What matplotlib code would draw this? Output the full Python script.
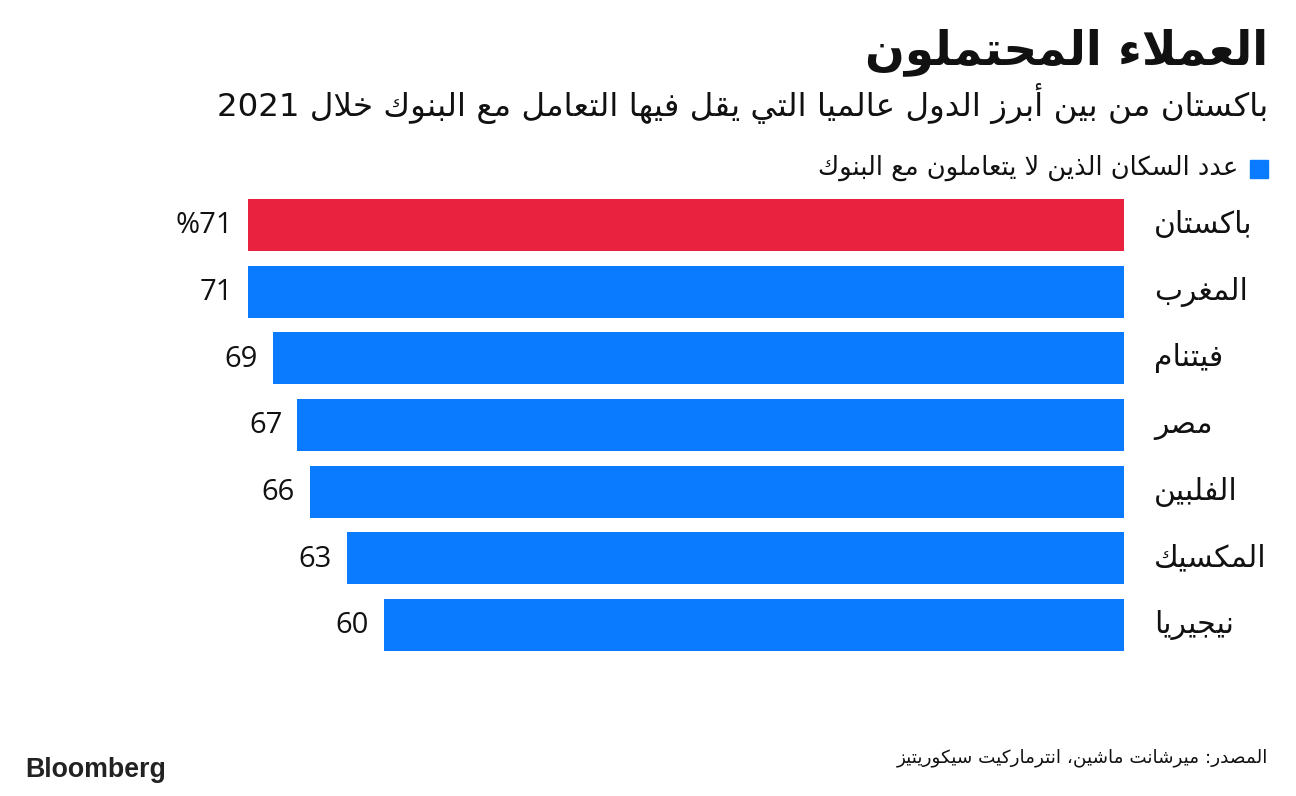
import re
import matplotlib
matplotlib.use("Agg")
import matplotlib.pyplot as plt

# ---------------- data ----------------
categories = ["باكستان", "المغرب", "فيتنام", "مصر", "الفلبين", "المكسيك", "نيجيريا"]
values = [71, 71, 69, 67, 66, 63, 60]
highlight = ["باكستان"]
title = "العملاء المحتملون"
subtitle = "باكستان من بين أبرز الدول عالميا التي يقل فيها التعامل مع البنوك خلال 2021"
legend_label = "عدد السكان الذين لا يتعاملون مع البنوك"
source = "المصدر: ميرشانت ماشين، انترماركيت سيكوريتيز"
brand = "Bloomberg"

RED = "#E8223F"
BLUE = "#0A7BFF"

# ------------- minimal Arabic shaping + RTL ordering -------------
_AR = {
    '\u0621': (0xFE80, 'U'), '\u0622': (0xFE81, 'R'), '\u0623': (0xFE83, 'R'),
    '\u0624': (0xFE85, 'R'), '\u0625': (0xFE87, 'R'), '\u0626': (0xFE89, 'D'),
    '\u0627': (0xFE8D, 'R'), '\u0628': (0xFE8F, 'D'), '\u0629': (0xFE93, 'R'),
    '\u062A': (0xFE95, 'D'), '\u062B': (0xFE99, 'D'), '\u062C': (0xFE9D, 'D'),
    '\u062D': (0xFEA1, 'D'), '\u062E': (0xFEA5, 'D'), '\u062F': (0xFEA9, 'R'),
    '\u0630': (0xFEAB, 'R'), '\u0631': (0xFEAD, 'R'), '\u0632': (0xFEAF, 'R'),
    '\u0633': (0xFEB1, 'D'), '\u0634': (0xFEB5, 'D'), '\u0635': (0xFEB9, 'D'),
    '\u0636': (0xFEBD, 'D'), '\u0637': (0xFEC1, 'D'), '\u0638': (0xFEC5, 'D'),
    '\u0639': (0xFEC9, 'D'), '\u063A': (0xFECD, 'D'), '\u0641': (0xFED1, 'D'),
    '\u0642': (0xFED5, 'D'), '\u0643': (0xFED9, 'D'), '\u0644': (0xFEDD, 'D'),
    '\u0645': (0xFEE1, 'D'), '\u0646': (0xFEE5, 'D'), '\u0647': (0xFEE9, 'D'),
    '\u0648': (0xFEED, 'R'), '\u0649': (0xFEEF, 'R'), '\u064A': (0xFEF1, 'D'),
}
_LA = {'\u0622': 0xFEF5, '\u0623': 0xFEF7, '\u0625': 0xFEF9, '\u0627': 0xFEFB}


def _shape(s):
    toks = []
    i = 0
    while i < len(s):
        c = s[i]
        if c == '\u0644' and i + 1 < len(s) and s[i + 1] in _LA:
            toks.append(('LA', s[i + 1]))
            i += 2
        else:
            toks.append((c, None))
            i += 1

    def jt(t):
        if t[0] == 'LA':
            return 'R'
        return _AR[t[0]][1] if t[0] in _AR else 'U'

    out = []
    for k, t in enumerate(toks):
        prev = toks[k - 1] if k > 0 else None
        nxt = toks[k + 1] if k + 1 < len(toks) else None
        cp = prev is not None and jt(prev) == 'D'
        if t[0] == 'LA':
            out.append(chr(_LA[t[1]] + (1 if cp else 0)))
            continue
        if t[0] not in _AR:
            out.append(t[0])
            continue
        base, typ = _AR[t[0]]
        cn = typ == 'D' and nxt is not None and jt(nxt) in ('D', 'R')
        if typ == 'U':
            off = 0
        elif typ == 'R':
            off = 1 if cp else 0
        else:
            off = 3 if (cp and cn) else 1 if cp else 2 if cn else 0
        out.append(chr(base + off))
    return ''.join(out)


def ar(s):
    rev = _shape(s)[::-1]
    return re.sub(r'[0-9A-Za-z.%]+', lambda m: m.group(0)[::-1], rev)


# ---------------- figure ----------------
W, H = 1296, 796
fig = plt.figure(figsize=(W / 100, H / 100), dpi=100)
fig.patch.set_facecolor("white")

px_per_unit = 876 / 71.0
right_px = 1124
ax = fig.add_axes([0, 1 - 658.3 / H, right_px / W, 466.7 / H])
ax.set_xlim(right_px / px_per_unit, 0)
ax.set_ylim(len(categories) - 0.5, -0.5)
ax.axis("off")

ypos = list(range(len(categories)))
colors = [RED if c in highlight else BLUE for c in categories]
ax.barh(ypos, values, height=0.78, color=colors, edgecolor="none")

for i, (c, v) in enumerate(zip(categories, values)):
    lab = f"%{v}" if i == 0 else f"{v}"
    ax.annotate(lab, (v, i), xytext=(-15, -1), textcoords="offset pixels",
                ha="right", va="center", fontsize=21, family="Open Sans",
                color="#111111")
    fig.text(1154 / W, 1 - (225 + i * 66.67) / H, ar(c), ha="left", va="center",
             fontsize=21.5, family="DejaVu Sans", color="#111111")

# titles
fig.text(1268 / W, 1 - 52 / H, ar(title), ha="right", va="center",
         fontsize=33.7, fontweight="bold", family="DejaVu Sans", color="#111111")
fig.text(1268 / W, 1 - 104 / H, ar(subtitle), ha="right", va="center",
         fontsize=23.4, family="DejaVu Sans", color="#111111")

# legend
fig.patches.append(plt.Rectangle((1250 / W, 1 - 178 / H), 18 / W, 18 / H,
                                 transform=fig.transFigure, color=BLUE))
fig.text(1238 / W, 1 - 168 / H, ar(legend_label), ha="right", va="center",
         fontsize=18.5, family="DejaVu Sans", color="#111111")

# footer
fig.text(1268 / W, 1 - 758 / H, ar(source), ha="right", va="center",
         fontsize=13.2, family="DejaVu Sans", color="#111111")
fig.text(25 / W, 1 - 770 / H, brand, ha="left", va="center",
         fontsize=19.3, fontweight="bold", family="Liberation Sans", color="#222222")

fig.savefig("out.png", dpi=100, facecolor="white")
